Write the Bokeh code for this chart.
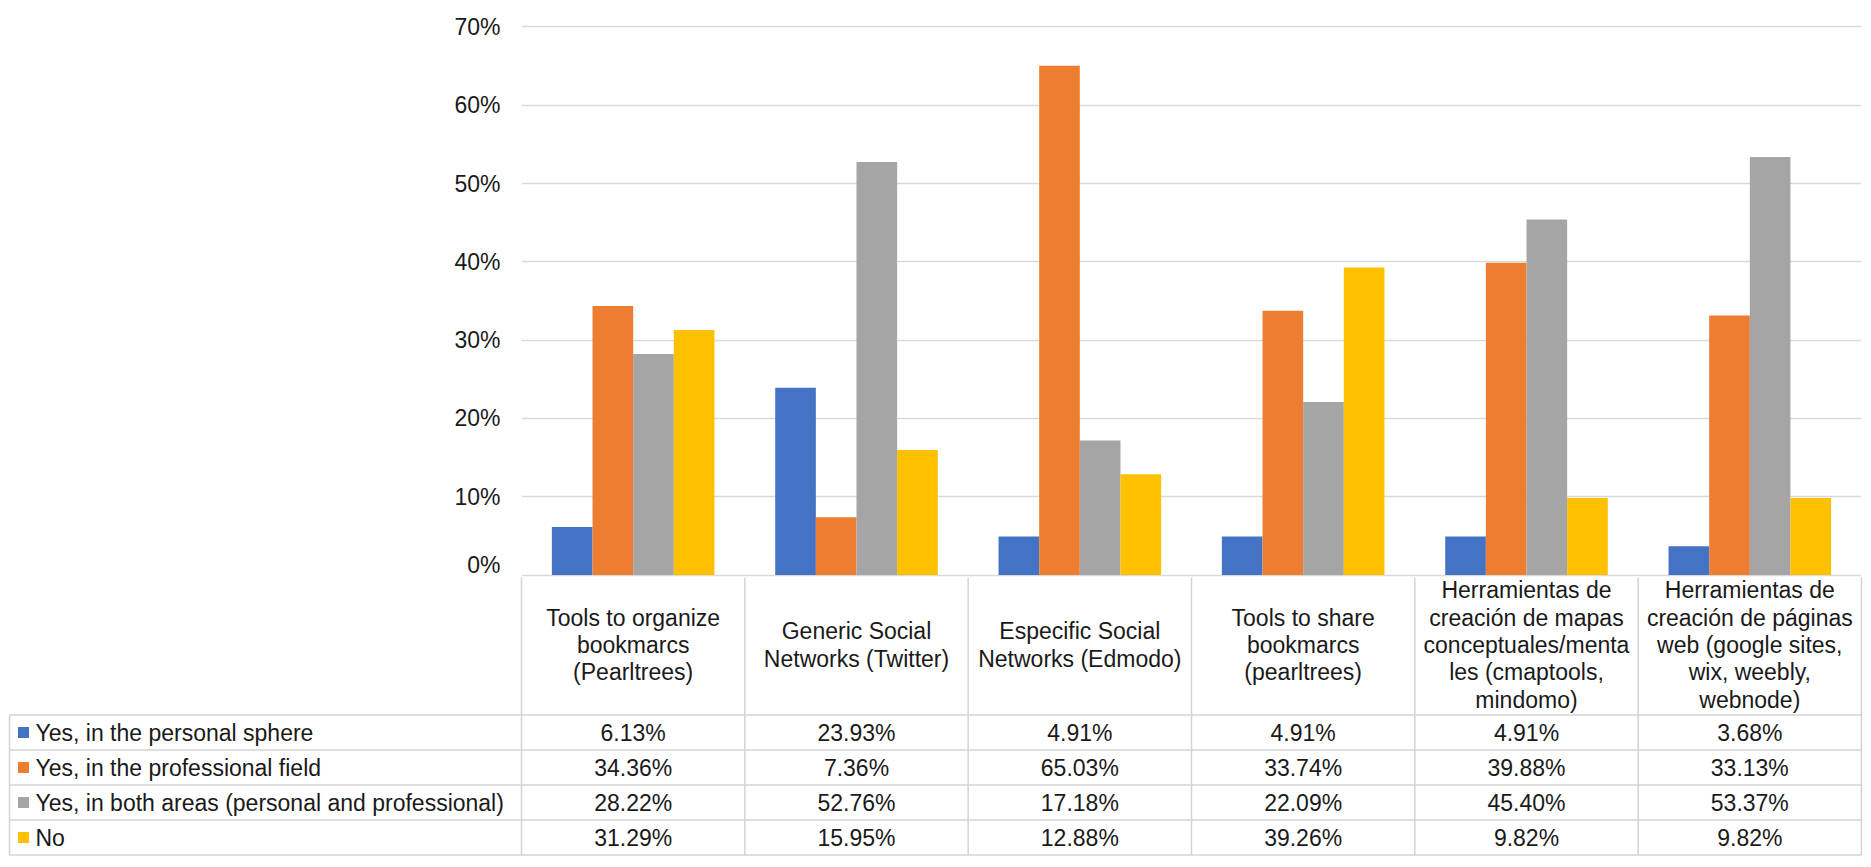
from bokeh.plotting import figure
from bokeh.models import FactorRange, Range1d, ColumnDataSource, FixedTicker, NumeralTickFormatter
from bokeh.transform import dodge
from bokeh.layouts import column
from bokeh.core.properties import value
from bokeh.embed import file_html
from bokeh.resources import INLINE

# ---------------- data ----------------
categories = [
    "Tools to organize\nbookmarcs\n(Pearltrees)",
    "Generic Social\nNetworks (Twitter)",
    "Especific Social\nNetworks (Edmodo)",
    "Tools to share\nbookmarcs\n(pearltrees)",
    "Herramientas de\ncreación de mapas\nconceptuales/menta\nles (cmaptools,\nmindomo)",
    "Herramientas de\ncreación de páginas\nweb (google sites,\nwix, weebly,\nwebnode)",
]
series_names = [
    "Yes, in the personal sphere",
    "Yes, in the professional field",
    "Yes, in both areas (personal and professional)",
    "No",
]
personal = [6.13, 23.93, 4.91, 4.91, 4.91, 3.68]
professional = [34.36, 7.36, 65.03, 33.74, 39.88, 33.13]
both = [28.22, 52.76, 17.18, 22.09, 45.40, 53.37]
no = [31.29, 15.95, 12.88, 39.26, 9.82, 9.82]
y_ticks = [0, 0.1, 0.2, 0.3, 0.4, 0.5, 0.6, 0.7]

series_values = [personal, professional, both, no]
colors = ["#4472C4", "#ED7D31", "#A5A5A5", "#FFC000"]

FONT = value("Liberation Sans")
FSIZE = "23px"
TXT = "#1a1a1a"
BORDER = "#d4d4d4"

# ---------------- layout constants ----------------
W = 223.33           # px per category column
PX_PER_UNIT = 783.0  # px per 1.0 (100%) on y
ROW = 35.0           # px per table row
BAR_W = 0.182
offsets = [-0.273, -0.091, 0.091, 0.273]
FIG_W = 1863

# ---------------- chart ----------------
pA = figure(
    width=FIG_W, height=577,
    x_range=FactorRange(*categories, range_padding=0),
    y_range=Range1d(-2.5 / PX_PER_UNIT, 550.5 / PX_PER_UNIT),
    x_axis_location=None,
    toolbar_location=None, output_backend="svg",
    min_border_left=521, min_border_right=2, min_border_top=24, min_border_bottom=0,
)
pA.frame_align = False
pA.outline_line_color = None
pA.background_fill_color = "white"
pA.border_fill_color = "white"

for vals, color, off in zip(series_values, colors, offsets):
    src = ColumnDataSource(dict(cat=categories, val=[v / 100 for v in vals]))
    pA.vbar(x=dodge("cat", off, range=pA.x_range), top="val", bottom=0, width=BAR_W,
            fill_color=color, line_color=None, source=src)

pA.yaxis.ticker = FixedTicker(ticks=y_ticks)
pA.yaxis.formatter = NumeralTickFormatter(format="0%")
pA.yaxis.axis_line_color = None
pA.yaxis.major_tick_line_color = None
pA.yaxis.minor_tick_line_color = None
pA.yaxis.major_tick_out = 0
pA.yaxis.major_tick_in = 0
pA.yaxis.major_label_standoff = 21
pA.yaxis.major_label_text_font = "Liberation Sans"
pA.yaxis.major_label_text_font_size = FSIZE
pA.yaxis.major_label_text_color = TXT
pA.xgrid.grid_line_color = None
pA.ygrid.grid_line_color = "#d9d9d9"
pA.ygrid.grid_line_width = 1.3

# ---------------- data table ----------------
x_left = -512.0 / W
pB = figure(
    width=FIG_W, height=282,
    x_range=Range1d(-521.0 / W, -521.0 / W + FIG_W / W),
    y_range=Range1d((859 - 574.5) / ROW, (577 - 574.5) / ROW),
    x_axis_location=None, y_axis_location=None,
    toolbar_location=None, output_backend="svg",
    min_border=0, min_border_left=0, min_border_right=0, min_border_top=0, min_border_bottom=0,
)
pB.frame_align = False
pB.outline_line_color = None
pB.grid.visible = False
pB.background_fill_color = "white"
pB.border_fill_color = "white"

n = len(categories)
nrows = len(series_names)
# horizontal borders
hx0, hx1, hy = [], [], []
for k in range(nrows + 1):
    hx0.append(x_left); hx1.append(n); hy.append(4 + k)
pB.segment(x0=hx0, y0=hy, x1=hx1, y1=hy, line_color=BORDER, line_width=1.5)
# vertical borders
vx = list(range(n + 1))
pB.segment(x0=vx, y0=[-1] * len(vx), x1=vx, y1=[4 + nrows] * len(vx), line_color=BORDER, line_width=1.5)
pB.segment(x0=[x_left], y0=[4], x1=[x_left], y1=[4 + nrows], line_color=BORDER, line_width=1.5)

# header texts
pB.text(x=[i + 0.5 for i in range(n)], y=[2] * n, text=categories,
        text_align="center", text_baseline="middle", text_font=FONT,
        text_font_size=FSIZE, text_color=TXT, text_line_height=1.05)

# values
for k, vals in enumerate(series_values):
    pB.text(x=[i + 0.5 for i in range(n)], y=[4.5 + k] * n,
            text=[f"{v:.2f}%" for v in vals],
            text_align="center", text_baseline="middle", text_font=FONT,
            text_font_size=FSIZE, text_color=TXT)

# legend keys + names
pB.scatter(x=[(23 - 521) / W] * nrows, y=[4.5 + k for k in range(nrows)], marker="square",
           size=11, fill_color=colors, line_color=None)
pB.text(x=[(35 - 521) / W] * nrows, y=[4.5 + k for k in range(nrows)], text=series_names,
        text_align="left", text_baseline="middle", text_font=FONT,
        text_font_size=FSIZE, text_color=TXT)

layout = column(pA, pB, spacing=0)
open("out.html", "w").write(file_html(layout, INLINE))
